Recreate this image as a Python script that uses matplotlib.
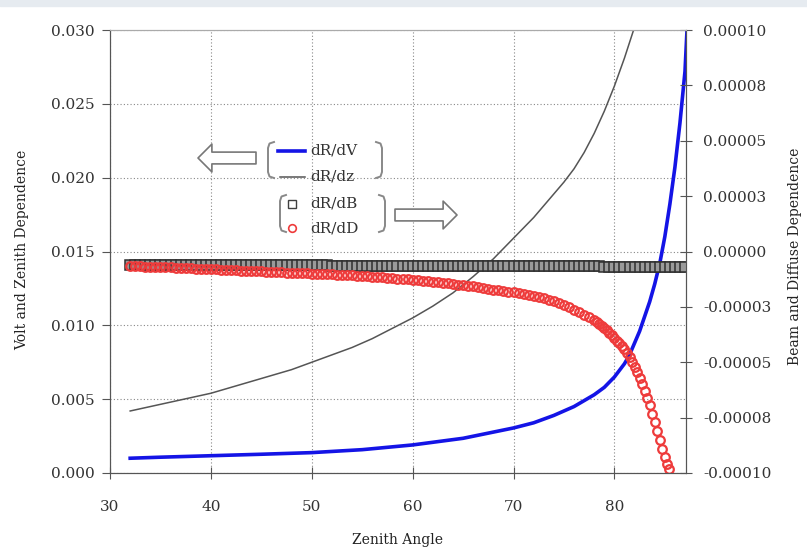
import numpy as np
import matplotlib.pyplot as plt
from matplotlib.lines import Line2D
from matplotlib.patches import Rectangle

plt.rcParams['font.family'] = 'DejaVu Serif'

# dR/dV (left axis)
blue_angle = [32, 35, 40, 45, 50, 55, 60, 65, 70, 72, 74, 76, 78, 79, 80, 81, 81.5, 82, 82.5,
              83, 83.5, 84, 84.5, 85, 85.5, 86, 86.5, 87, 87.2]
dRdV = [0.00100, 0.00107, 0.00117, 0.00127, 0.00138, 0.00158, 0.00190, 0.00235, 0.00305,
        0.0034, 0.0039, 0.0045, 0.0053, 0.0058, 0.0065, 0.0074, 0.0080, 0.0088, 0.0096,
        0.0106, 0.0116, 0.0128, 0.0142, 0.0160, 0.0182, 0.0207, 0.0237, 0.0272, 0.0300]

# dR/dz (left axis)
gray_angle = [32, 34, 36, 38, 40, 42, 44, 46, 48, 50, 52, 54, 56, 58, 60, 62, 64, 66, 68,
              70, 71, 72, 73, 74, 75, 76, 77, 78, 79, 80, 81, 82]
dRdz = [0.0042, 0.0045, 0.0048, 0.0051, 0.0054, 0.0058, 0.0062, 0.0066, 0.0070, 0.0075,
        0.0080, 0.0085, 0.0091, 0.0098, 0.0105, 0.0113, 0.0122, 0.0133, 0.0145, 0.0159,
        0.0166, 0.0173, 0.0181, 0.0189, 0.0197, 0.0206, 0.0217, 0.0230, 0.0245, 0.0262,
        0.0281, 0.0302]

# dR/dB (right axis, units of 1e-5)
sq_angle = np.arange(32, 87.01, 0.5)
dRdB = np.array([
    -0.62, -0.62, -0.62, -0.62, -0.62, -0.62, -0.62, -0.62, -0.62, -0.62,
    -0.62, -0.62, -0.62, -0.62, -0.62, -0.62, -0.62, -0.62, -0.62, -0.63,
    -0.63, -0.63, -0.63, -0.63, -0.63, -0.63, -0.63, -0.63, -0.63, -0.63,
    -0.63, -0.63, -0.63, -0.63, -0.63, -0.63, -0.63, -0.63, -0.63, -0.63,
    -0.64, -0.64, -0.64, -0.64, -0.64, -0.64, -0.64, -0.64, -0.64, -0.64,
    -0.64, -0.64, -0.64, -0.64, -0.64, -0.64, -0.64, -0.64, -0.64, -0.64,
    -0.65, -0.65, -0.65, -0.65, -0.65, -0.65, -0.65, -0.65, -0.65, -0.65,
    -0.65, -0.65, -0.66, -0.66, -0.66, -0.66, -0.66, -0.66, -0.66, -0.66,
    -0.66, -0.66, -0.67, -0.67, -0.67, -0.67, -0.67, -0.67, -0.67, -0.67,
    -0.67, -0.67, -0.67, -0.67, -0.68, -0.68, -0.68, -0.68, -0.68, -0.68,
    -0.68, -0.68, -0.68, -0.68, -0.68, -0.68, -0.68, -0.68, -0.68, -0.68,
    -0.68,
]) * 1e-5

# dR/dD (right axis, units of 1e-5)
red_angle = np.concatenate([np.arange(32, 78.01, 0.5), np.arange(78.25, 85.26, 0.25), [85.4]])
dRdD = np.array([
    -0.66, -0.67, -0.67, -0.68, -0.69, -0.70, -0.70, -0.71, -0.72, -0.73,
    -0.74, -0.75, -0.76, -0.77, -0.78, -0.79, -0.80, -0.81, -0.82, -0.83,
    -0.84, -0.85, -0.86, -0.87, -0.88, -0.89, -0.90, -0.91, -0.92, -0.93,
    -0.94, -0.95, -0.96, -0.97, -0.98, -0.99, -1.00, -1.01, -1.02, -1.02,
    -1.03, -1.04, -1.06, -1.07, -1.08, -1.09, -1.11, -1.12, -1.13, -1.15,
    -1.17, -1.18, -1.20, -1.22, -1.24, -1.25, -1.27, -1.29, -1.32, -1.34,
    -1.36, -1.39, -1.41, -1.44, -1.46, -1.49, -1.52, -1.55, -1.58, -1.62,
    -1.65, -1.69, -1.72, -1.76, -1.79, -1.82, -1.85, -1.89, -1.93, -1.97,
    -2.02, -2.07, -2.12, -2.18, -2.25, -2.33, -2.42, -2.52, -2.62, -2.73,
    -2.85, -2.97, -3.10,
    -3.18, -3.27, -3.36, -3.45, -3.55, -3.66, -3.78, -3.90, -4.02, -4.14,
    -4.27, -4.40, -4.58, -4.77, -4.98, -5.20, -5.45, -5.70, -6.00, -6.30,
    -6.62, -6.95, -7.32, -7.70, -8.10, -8.50, -8.90, -9.30, -9.60,
    -9.80,
]) * 1e-5

x_ticks = [30, 40, 50, 60, 70, 80]
left_ticks = [0.000, 0.005, 0.010, 0.015, 0.020, 0.025, 0.030]
right_ticks = [-0.0001, -0.000075, -0.00005, -0.000025, 0, 0.000025, 0.00005, 0.000075, 0.0001]
right_labels = ['-0.00010', '-0.00008', '-0.00005', '-0.00003', '0.00000',
                '0.00003', '0.00005', '0.00008', '0.00010']

W, H = 807, 559
def fx(px):
    return px / W
def fy(py):
    return 1 - py / H

BLUE = '#1414e6'
GRAY = '#555555'
RED = '#ee3b3b'
TXT = '#333333'

fig = plt.figure(figsize=(W / 100, H / 100), dpi=100)
fig.patches.append(Rectangle((0, fy(6)), 1, 1 - fy(6), transform=fig.transFigure,
                             color='#e6ebf0', zorder=0))

ax = fig.add_axes([fx(110), fy(473), (686 - 110) / W, (473 - 30) / H])
ax2 = ax.twinx()

ax.plot(gray_angle, dRdz, color=GRAY, lw=1.1)
ax.plot(blue_angle, dRdV, color=BLUE, lw=2.6)
ax2.plot(sq_angle, dRdB, ls='none', marker='s', ms=7, mfc='#9a9a9a', mec='#303030', mew=1.1)
ax2.plot(red_angle, dRdD, ls='none', marker='o', ms=6.2, mfc='none', mec=RED, mew=1.6)

ax.set_xlim(30, 87.1)
ax.set_ylim(0, 0.03)
ax2.set_ylim(-0.0001, 0.0001)

ax.set_xticks(x_ticks)
ax.set_xticklabels([str(t) for t in x_ticks])
ax.set_yticks(left_ticks)
ax.set_yticklabels([f'{t:.3f}' for t in left_ticks])
ax2.set_yticks(right_ticks)
ax2.set_yticklabels(right_labels)

ax.grid(True, linestyle=(0, (1, 2)), color='#888888', lw=0.8)

ax.tick_params(axis='y', direction='out', length=6, color=GRAY, labelsize=11,
               labelcolor=TXT, pad=5)
ax.tick_params(axis='x', direction='inout', length=9, color=GRAY, labelsize=11,
               labelcolor=TXT, pad=15)
ax2.tick_params(axis='y', direction='inout', length=9, color=GRAY, labelsize=11,
                labelcolor=TXT, pad=8)

for a in (ax, ax2):
    a.spines['top'].set_color('#aaaaaa')
    a.spines['left'].set_color(GRAY)
    a.spines['bottom'].set_color(GRAY)
    a.spines['right'].set_color(GRAY)

fig.text(fx(398), fy(540), 'Zenith Angle', ha='center', va='center', fontsize=10, color='#222222')
fig.text(fx(22), fy(250), 'Volt and Zenith Dependence', ha='center', va='center',
         rotation=90, fontsize=10, color='#222222')
fig.text(fx(795), fy(256), 'Beam and Diffuse Dependence', ha='center', va='center',
         rotation=90, fontsize=10, color='#222222')

# hand-made legend with brackets and arrows
def bracket(x, top, bot, side):
    d = 6 * side
    xs = [x + d, x + side * 1.5, x, x, x + side * 1.5, x + d]
    ys = [top, top + 1.5, top + 6, bot - 6, bot - 1.5, bot]
    fig.add_artist(Line2D([fx(v) for v in xs], [fy(v) for v in ys], color='#888888', lw=1.4))

bracket(268, 142, 178, 1)
bracket(382, 142, 178, -1)
bracket(280, 195, 232, 1)
bracket(385, 195, 232, -1)

fig.add_artist(Line2D([fx(278), fx(305)], [fy(151), fy(151)], color=BLUE, lw=2.6))
fig.add_artist(Line2D([fx(280), fx(305)], [fy(177), fy(177)], color=GRAY, lw=1.1))
fig.add_artist(Line2D([fx(292)], [fy(204)], ls='none', marker='s', ms=6, mfc='none',
                      mec='#404040', mew=1))
fig.add_artist(Line2D([fx(292)], [fy(228)], ls='none', marker='o', ms=5.5, mfc='none',
                      mec=RED, mew=1.2))
for label, py in [('dR/dV', 151), ('dR/dz', 177), ('dR/dB', 204), ('dR/dD', 228)]:
    fig.text(fx(310), fy(py), label, ha='left', va='center', fontsize=11, color=TXT)

arrow_style = 'simple,head_length=1.0,head_width=2.0,tail_width=0.85'
fig.add_artist(plt.Annotation('', xy=(198, H - 158), xycoords='figure pixels',
                              xytext=(256, H - 158), textcoords='figure pixels',
                              arrowprops=dict(arrowstyle=arrow_style, fc='white', ec='#777777',
                                              lw=1.2, shrinkA=0, shrinkB=0)))
fig.add_artist(plt.Annotation('', xy=(457, H - 215), xycoords='figure pixels',
                              xytext=(395, H - 215), textcoords='figure pixels',
                              arrowprops=dict(arrowstyle=arrow_style, fc='white', ec='#777777',
                                              lw=1.2, shrinkA=0, shrinkB=0)))

fig.savefig('out.png', dpi=100)
